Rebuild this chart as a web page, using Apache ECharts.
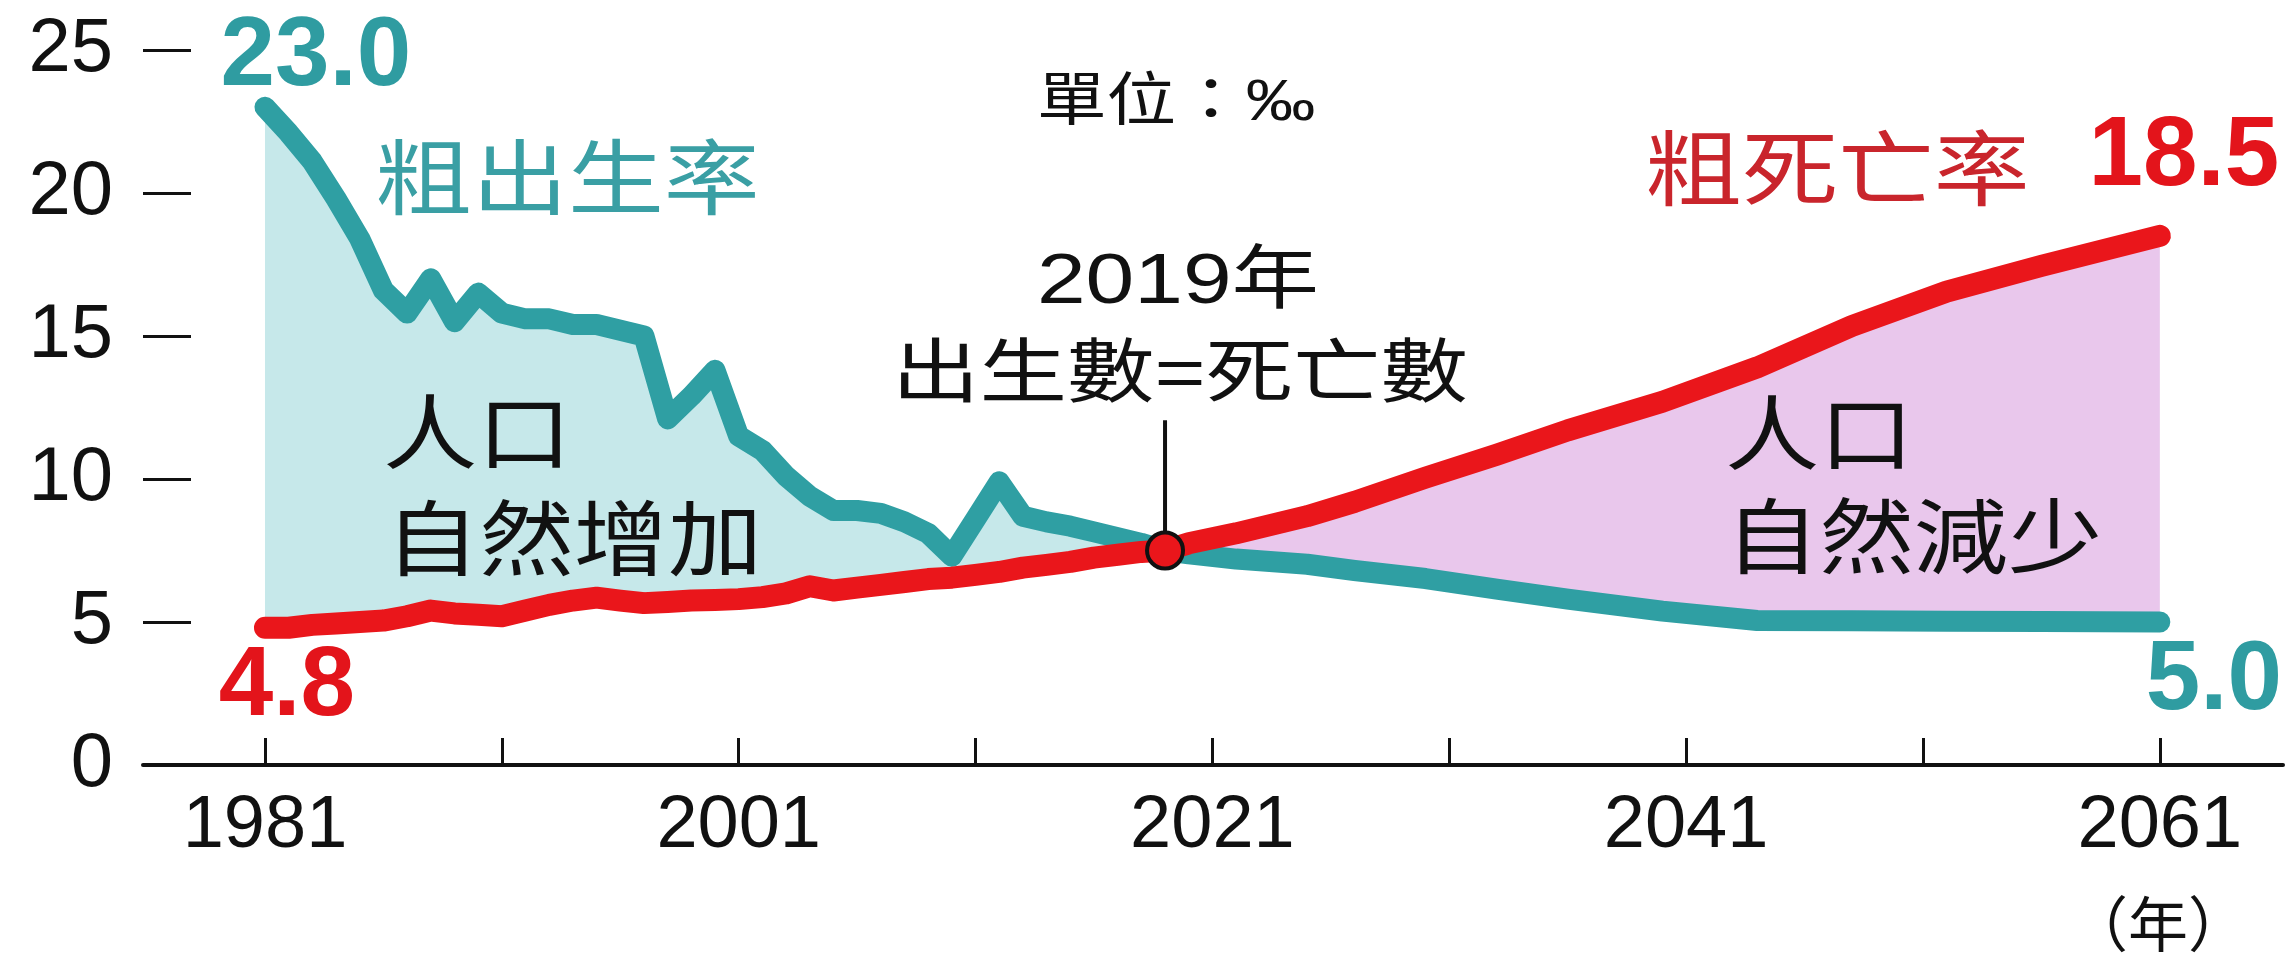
<!DOCTYPE html>
<html>
<head>
<meta charset="utf-8">
<title>粗出生率與粗死亡率</title>
<script src="https://cdn.jsdelivr.net/npm/echarts@6/dist/echarts.min.js"></script>
<style>
  html, body { margin: 0; padding: 0; background: #ffffff; }
  #chart { width: 2288px; height: 964px; }
</style>
</head>
<body>
<div id="chart"></div>
<script>
// Years: yearly history to 2019, then projection points to 2061
const years = [
  1981, 1982, 1983, 1984, 1985, 1986, 1987, 1988, 1989, 1990,
  1991, 1992, 1993, 1994, 1995, 1996, 1997, 1998, 1999, 2000,
  2001, 2002, 2003, 2004, 2005, 2006, 2007, 2008, 2009, 2010,
  2011, 2012, 2013, 2014, 2015, 2016, 2017, 2018, 2019,
  2020, 2022, 2025, 2027, 2030, 2033, 2036, 2040, 2044, 2048, 2052, 2056, 2061
];
// Crude birth rate (‰)
const birthRate = [
  23.0, 22.1, 21.1, 19.8, 18.4, 16.6, 15.8, 17.0, 15.5, 16.5,
  15.8, 15.6, 15.6, 15.4, 15.4, 15.2, 15.0, 12.1, 12.9, 13.8,
  11.5, 11.0, 10.1, 9.4, 8.9, 8.9, 8.8, 8.5, 8.1, 7.3,
  8.6, 9.9, 8.7, 8.5, 8.35, 8.15, 7.95, 7.75, 7.5,
  7.38, 7.2, 7.02, 6.8, 6.52, 6.15, 5.8, 5.38, 5.05, 5.04, 5.03, 5.02, 5.0
];
// Crude death rate (‰)
const deathRate = [
  4.8, 4.8, 4.9, 4.95, 5.0, 5.05, 5.2, 5.4, 5.3, 5.25,
  5.2, 5.4, 5.6, 5.75, 5.85, 5.75, 5.66, 5.7, 5.75, 5.77,
  5.8, 5.87, 6.0, 6.25, 6.1, 6.2, 6.3, 6.4, 6.5, 6.55,
  6.65, 6.75, 6.9, 7.0, 7.1, 7.25, 7.35, 7.45, 7.5,
  7.75, 8.1, 8.7, 9.2, 10.05, 10.85, 11.7, 12.7, 13.9, 15.35, 16.55, 17.45, 18.5
];
// Year in which births equal deaths
const crossYear = 2019;
const crossValue = 7.5;
const leaderTop = 12.05;

const xTickValues = [1981, 1991, 2001, 2011, 2021, 2031, 2041, 2051, 2061];
const xLabelValues = [1981, 2001, 2021, 2041, 2061];

const TEAL = '#2f9fa3';
const TEAL_FILL = '#c6e8ea';
const RED = '#ea161b';
const PINK_FILL = '#e9c7ec';

const crossIdx = years.indexOf(crossYear);
const lastIdx = years.length - 1;

const pair = (arr) => years.map((y, i) => [y, arr[i]]);

// Closed outline between the two curves over [from, to] index range
function bandPoints(api, from, to) {
  const pts = [];
  for (let i = from; i <= to; i++) pts.push(api.coord([years[i], birthRate[i]]));
  for (let i = to; i >= from; i--) pts.push(api.coord([years[i], deathRate[i]]));
  return pts;
}
const bands = [
  { from: 0, to: crossIdx, fill: TEAL_FILL },
  { from: crossIdx, to: lastIdx, fill: PINK_FILL }
];

const valueFont = { fontFamily: '"Liberation Sans", Arial, sans-serif', fontWeight: 'bold', fontSize: 98 };

function endLabel(arr, idx, color, offset) {
  return {
    value: [years[idx], arr[idx]],
    label: {
      show: true, position: 'inside', offset: offset,
      formatter: arr[idx].toFixed(1), color: color, opacity: 1,
      align: 'center', verticalAlign: 'middle',
      ...valueFont
    }
  };
}

const chart = echarts.init(document.getElementById('chart'), null, { renderer: 'canvas' });

const cjk = '"Noto Sans CJK TC", "Noto Sans CJK SC", sans-serif';
const latinCjk = '"Liberation Sans", "Noto Sans CJK TC", sans-serif';

function note(text, x, y, size, color, align, scaleX, family) {
  return {
    type: 'text', x: x, y: y, scaleX: scaleX, scaleY: 1, z: 50,
    style: {
      text: text, fill: color,
      font: size + 'px ' + (family || cjk),
      textAlign: align, textVerticalAlign: 'middle',
      align: align, verticalAlign: 'middle'
    }
  };
}

const option = {
  animation: false,
  backgroundColor: '#ffffff',
  grid: { left: 143, right: 5, top: 50, bottom: 199, containLabel: false },
  xAxis: {
    type: 'value', min: 1975.85, max: 2066.2,
    splitLine: { show: false },
    axisLine: { show: true, lineStyle: { color: '#111', width: 4 } },
    axisTick: { show: true, inside: true, length: 27, customValues: xTickValues,
      lineStyle: { color: '#111', width: 3 } },
    axisLabel: { customValues: xLabelValues, fontSize: 74, color: '#111', margin: 25,
      fontFamily: '"Liberation Sans", Arial, sans-serif',
      formatter: (v) => String(Math.round(v)) }
  },
  yAxis: {
    type: 'value', min: 0, max: 25, interval: 5,
    splitLine: { show: false },
    axisLine: { show: false },
    axisTick: { show: true, inside: true, length: 48, lineStyle: { color: '#111', width: 3 } },
    axisLabel: { fontSize: 76, color: '#111', margin: 30,
      fontFamily: '"Liberation Sans", Arial, sans-serif' }
  },
  series: [
    { name: 'bands', type: 'custom', silent: true, z: 1,
      data: bands.map((b) => [years[b.from], crossValue]),
      renderItem: (params, api) => {
        const b = bands[params.dataIndex];
        return { type: 'polygon', shape: { points: bandPoints(api, b.from, b.to) },
          style: { fill: b.fill } };
      } },
    { name: '粗出生率', type: 'line', data: pair(birthRate), symbol: 'none',
      lineStyle: { color: TEAL, width: 21, cap: 'round', join: 'round' }, z: 3 },
    { name: '粗死亡率', type: 'line', data: pair(deathRate), symbol: 'none',
      lineStyle: { color: RED, width: 22, cap: 'round', join: 'round' }, z: 4 },
    { name: 'leader', type: 'line', data: [[crossYear, crossValue], [crossYear, leaderTop]],
      symbol: 'none', lineStyle: { color: '#111', width: 4 }, z: 5 },
    { name: 'cross', type: 'scatter', data: [[crossYear, crossValue]], symbol: 'circle',
      symbolSize: 36, itemStyle: { color: RED, borderColor: '#111', borderWidth: 4, opacity: 1 }, z: 6 },
    { name: 'birthEnds', type: 'scatter', symbolSize: 1,
      itemStyle: { color: 'rgba(0,0,0,0)', opacity: 1 }, z: 7,
      data: [
        endLabel(birthRate, 0, '#2f9ca1', [51, -49]),
        endLabel(birthRate, lastIdx, '#2f9ca1', [54, 60])
      ] },
    { name: 'deathEnds', type: 'scatter', symbolSize: 1,
      itemStyle: { color: 'rgba(0,0,0,0)', opacity: 1 }, z: 7,
      data: [
        endLabel(deathRate, 0, '#e3141b', [22, 60]),
        endLabel(deathRate, lastIdx, '#e3141b', [24, -78])
      ] }
  ],
  graphic: [
    note('單位：‰', 1037, 104, 58, '#111', 'left', 1.2, latinCjk),
    note('2019年', 1178, 284, 70, '#111', 'center', 1.25, latinCjk),
    note('出生數=死亡數', 1180, 378, 70, '#111', 'center', 1.25, latinCjk),
    note('粗出生率', 376, 177, 82, '#3a9fa4', 'left', 1.17),
    note('粗死亡率', 1646, 168, 82, '#c9252c', 'left', 1.17),
    note('人口', 383, 432, 82, '#111', 'left', 1.15),
    note('自然增加', 385, 538, 82, '#111', 'left', 1.15),
    note('人口', 1725, 433, 82, '#111', 'left', 1.15),
    note('自然減少', 1725, 536, 82, '#111', 'left', 1.15),
    note('（年）', 2158, 924, 60, '#111', 'center', 1.0)
  ]
};

chart.setOption(option);
</script>
</body>
</html>
